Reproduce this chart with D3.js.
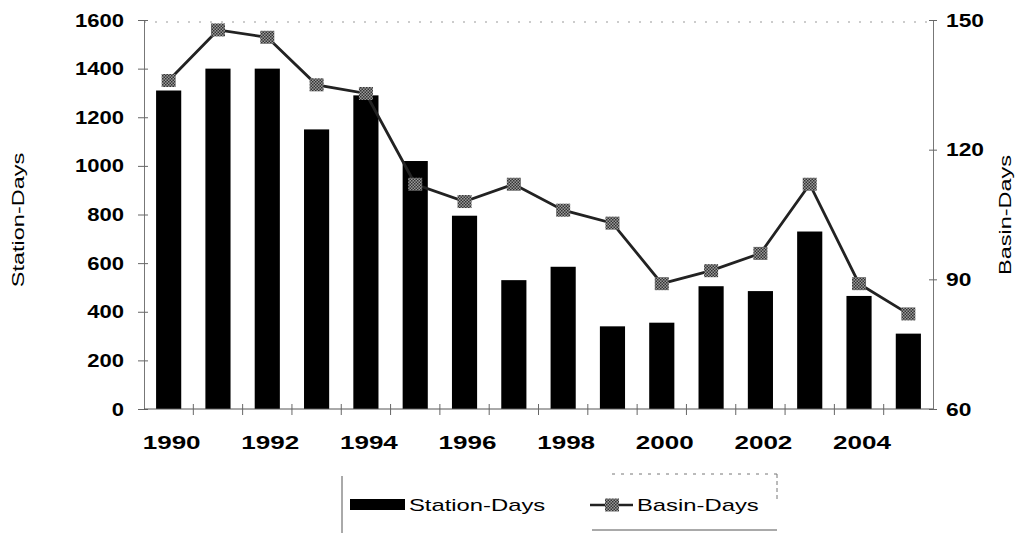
<!DOCTYPE html>
<html>
<head>
<meta charset="utf-8">
<script src="https://cdn.jsdelivr.net/npm/d3@7"></script>
<style>
  html, body { margin: 0; padding: 0; background: #fff; }
  svg { display: block; }
  text { font-family: "Liberation Sans", Arial, Helvetica, sans-serif; fill: #000; }
</style>
</head>
<body>
<svg id="chart" width="1020" height="533"></svg>
<script>
// Yearly observing effort
const years = [1990, 1991, 1992, 1993, 1994, 1995, 1996, 1997, 1998, 1999, 2000, 2001, 2002, 2003, 2004, 2005];
const stationDays = [1310, 1400, 1400, 1150, 1290, 1020, 795, 530, 585, 340, 355, 505, 485, 730, 465, 310];
const basinDays = [136, 147.7, 146, 135, 133, 112, 108, 112, 106, 103, 89, 92, 96, 112, 89, 82];

const leftTicks = [0, 200, 400, 600, 800, 1000, 1200, 1400, 1600];
const rightTicks = [60, 90, 120, 150];
const yearLabels = [1990, 1992, 1994, 1996, 1998, 2000, 2002, 2004];

const svg = d3.select("#chart");
const plot = { left: 144, right: 933, top: 20, bottom: 409 };

const x = d3.scaleBand()
  .domain(years)
  .range([plot.left, plot.right])
  .paddingInner(0.49)
  .paddingOuter(0.245);

const yLeft = d3.scaleLinear().domain([0, 1600]).range([plot.bottom, plot.top]);
const yRight = d3.scaleLinear().domain([60, 150]).range([plot.bottom, plot.top]);

// Widen glyph runs so the type reads broad, like the printed original
function stretch(sel, k) {
  sel.each(function () {
    const len = this.getComputedTextLength();
    d3.select(this).attr("textLength", len * k).attr("lengthAdjust", "spacingAndGlyphs");
  });
}

// Hatched grey fill for the line markers
const defs = svg.append("defs");
const pat = defs.append("pattern")
  .attr("id", "markerFill")
  .attr("width", 3).attr("height", 3)
  .attr("patternUnits", "userSpaceOnUse");
pat.append("rect").attr("width", 3).attr("height", 3).attr("fill", "#9a9a9a");
pat.append("rect").attr("width", 1.5).attr("height", 1.5).attr("fill", "#333");
pat.append("rect").attr("x", 1.5).attr("y", 1.5).attr("width", 1.5).attr("height", 1.5).attr("fill", "#333");

// faint top frame line
svg.append("line")
  .attr("x1", plot.left).attr("x2", plot.right - 4)
  .attr("y1", plot.top + 2).attr("y2", plot.top + 2)
  .attr("stroke", "#999").attr("stroke-width", 1)
  .attr("stroke-dasharray", "2,9");

// Bars
svg.append("g")
  .selectAll("rect")
  .data(years)
  .join("rect")
  .attr("x", d => x(d))
  .attr("width", x.bandwidth())
  .attr("y", (d, i) => yLeft(stationDays[i]))
  .attr("height", (d, i) => yLeft(0) - yLeft(stationDays[i]))
  .attr("fill", "#000");

// Left axis
const leftAxis = svg.append("g")
  .attr("transform", `translate(${plot.left},0)`)
  .call(d3.axisLeft(yLeft).tickValues(leftTicks).tickFormat(d3.format("d")).tickSize(6).tickPadding(14));
leftAxis.select(".domain").attr("stroke", "#777");
leftAxis.selectAll(".tick line").attr("stroke", "#666").attr("x2", -6).attr("x1", 4);
leftAxis.selectAll(".tick text")
  .attr("font-size", 19).attr("font-weight", "bold")
  .attr("font-family", "'Liberation Sans', Arial, sans-serif")
  .attr("fill", "#000");
stretch(leftAxis.selectAll(".tick text"), 1.16);

// Right axis
const rightAxis = svg.append("g")
  .attr("transform", `translate(${plot.right},0)`)
  .call(d3.axisRight(yRight).tickValues(rightTicks).tickFormat(d3.format("d")).tickSize(4).tickPadding(10));
rightAxis.select(".domain").attr("stroke", "#777");
rightAxis.selectAll(".tick line").attr("stroke", "#666").attr("x1", -4);
rightAxis.selectAll(".tick text")
  .attr("x", 13)
  .attr("font-size", 19).attr("font-weight", "bold")
  .attr("font-family", "'Liberation Sans', Arial, sans-serif")
  .attr("fill", "#000");
stretch(rightAxis.selectAll(".tick text"), 1.2);

// Baseline with category divider ticks
svg.append("line")
  .attr("x1", plot.left).attr("x2", plot.right)
  .attr("y1", plot.bottom).attr("y2", plot.bottom)
  .attr("stroke", "#555").attr("stroke-width", 1);
const step = x.step();
const dividers = years.slice(1).map(d => x(d) - (step - x.bandwidth()) / 2);
svg.append("g")
  .selectAll("line")
  .data(dividers)
  .join("line")
  .attr("x1", d => d).attr("x2", d => d)
  .attr("y1", plot.bottom - 5).attr("y2", plot.bottom + 6)
  .attr("stroke", "#666").attr("stroke-width", 1);

// Year labels
const yl = svg.append("g")
  .selectAll("text")
  .data(yearLabels)
  .join("text")
  .attr("x", d => x(d) + x.bandwidth() / 2 + 3)
  .attr("y", plot.bottom + 40)
  .attr("text-anchor", "middle")
  .attr("font-size", 19)
  .attr("font-weight", "bold")
  .text(d => d);
stretch(yl, 1.37);

// Line series
const pts = years.map((d, i) => [x(d) + x.bandwidth() / 2, yRight(basinDays[i])]);
svg.append("path")
  .attr("d", d3.line()(pts))
  .attr("fill", "none")
  .attr("stroke", "#222")
  .attr("stroke-width", 2.8);
svg.append("g")
  .selectAll("rect")
  .data(pts)
  .join("rect")
  .attr("x", d => d[0] - 7)
  .attr("y", d => d[1] - 6.5)
  .attr("width", 14)
  .attr("height", 13)
  .attr("fill", "url(#markerFill)");

// Axis titles
const tl = svg.append("text")
  .attr("transform", "translate(24,220) rotate(-90)")
  .attr("text-anchor", "middle")
  .attr("font-size", 17)
  .text("Station-Days");
stretch(tl, 1.38);
const tr = svg.append("text")
  .attr("transform", "translate(1011,215) rotate(-90)")
  .attr("text-anchor", "middle")
  .attr("font-size", 17)
  .text("Basin-Days");
stretch(tr, 1.38);

// Legend
const lg = svg.append("g");
lg.append("line").attr("x1", 342).attr("x2", 342).attr("y1", 476).attr("y2", 533)
  .attr("stroke", "#555").attr("stroke-width", 1);
lg.append("line").attr("x1", 612).attr("x2", 777).attr("y1", 474).attr("y2", 474)
  .attr("stroke", "#777").attr("stroke-width", 1).attr("stroke-dasharray", "3,6");
lg.append("line").attr("x1", 777).attr("x2", 777).attr("y1", 474).attr("y2", 500)
  .attr("stroke", "#777").attr("stroke-width", 1).attr("stroke-dasharray", "4,3");
lg.append("line").attr("x1", 592).attr("x2", 777).attr("y1", 530).attr("y2", 530)
  .attr("stroke", "#555").attr("stroke-width", 1);

lg.append("rect").attr("x", 350).attr("y", 499).attr("width", 55).attr("height", 11).attr("fill", "#000");
const lt1 = lg.append("text").attr("x", 409).attr("y", 511).attr("font-size", 17).text("Station-Days");
stretch(lt1, 1.4);

lg.append("line").attr("x1", 590).attr("x2", 633).attr("y1", 505).attr("y2", 505)
  .attr("stroke", "#222").attr("stroke-width", 2.6);
lg.append("rect").attr("x", 605).attr("y", 498.5).attr("width", 14).attr("height", 13)
  .attr("fill", "url(#markerFill)");
const lt2 = lg.append("text").attr("x", 637).attr("y", 511).attr("font-size", 17).text("Basin-Days");
stretch(lt2, 1.4);
</script>
</body>
</html>
